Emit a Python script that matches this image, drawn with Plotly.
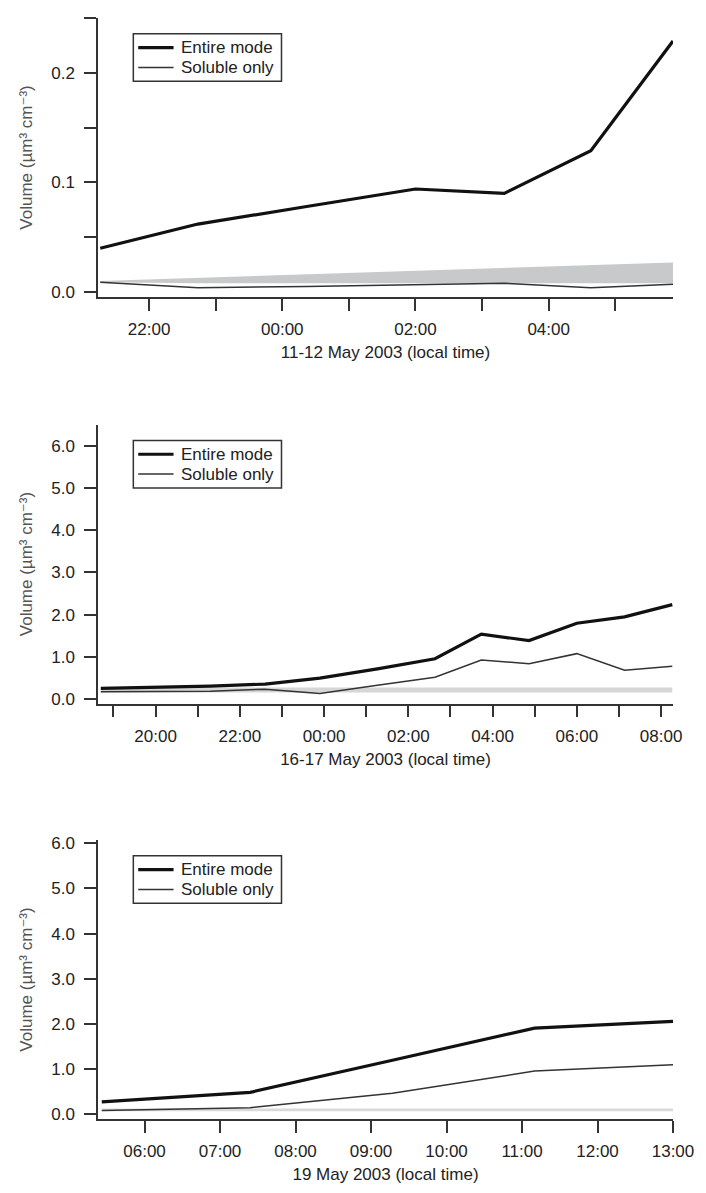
import plotly.graph_objects as go

# ---------------- Data ----------------
# Panel 1: 11-12 May 2003
t1 = ["2003-05-11 21:16", "2003-05-11 22:44", "2003-05-12 00:22", "2003-05-12 02:00",
      "2003-05-12 03:20", "2003-05-12 04:38", "2003-05-12 05:52"]
entire1 = [0.040, 0.062, 0.078, 0.094, 0.090, 0.129, 0.229]
soluble1 = [0.009, 0.004, 0.005, 0.007, 0.008, 0.004, 0.007]
band1_low = [0.009, 0.008, 0.008, 0.008, 0.008, 0.008, 0.008]
band1_high = [0.010, 0.013, 0.016, 0.019, 0.022, 0.025, 0.027]

# Panel 2: 16-17 May 2003
t2 = ["2003-05-16 18:42", "2003-05-16 20:00", "2003-05-16 21:18", "2003-05-16 22:36",
      "2003-05-16 23:54", "2003-05-17 01:16", "2003-05-17 02:38", "2003-05-17 03:44",
      "2003-05-17 04:52", "2003-05-17 06:00", "2003-05-17 07:08", "2003-05-17 08:16"]
entire2 = [0.26, 0.28, 0.31, 0.36, 0.50, 0.72, 0.96, 1.54, 1.39, 1.80, 1.95, 2.24]
soluble2 = [0.18, 0.18, 0.19, 0.24, 0.14, 0.33, 0.52, 0.93, 0.84, 1.08, 0.69, 0.78]
band2_low = [0.16] * 12
band2_high = [0.28] * 12

# Panel 3: 19 May 2003
t3 = ["2003-05-19 05:26", "2003-05-19 07:24", "2003-05-19 09:17", "2003-05-19 11:10",
      "2003-05-19 13:00"]
entire3 = [0.28, 0.49, 1.20, 1.91, 2.06]
soluble3 = [0.09, 0.15, 0.47, 0.96, 1.10]
band3_low = [0.07] * 5
band3_high = [0.13] * 5

# Axis ticks (major labelled, minor unlabelled)
xt1 = ["2003-05-11 22:00", "2003-05-12 00:00", "2003-05-12 02:00", "2003-05-12 04:00"]
xl1 = ["22:00", "00:00", "02:00", "04:00"]
xm1 = ["2003-05-11 23:00", "2003-05-12 01:00", "2003-05-12 03:00", "2003-05-12 05:00"]
xt2 = ["2003-05-16 20:00", "2003-05-16 22:00", "2003-05-17 00:00", "2003-05-17 02:00",
       "2003-05-17 04:00", "2003-05-17 06:00", "2003-05-17 08:00"]
xl2 = ["20:00", "22:00", "00:00", "02:00", "04:00", "06:00", "08:00"]
xm2 = ["2003-05-16 19:00", "2003-05-16 21:00", "2003-05-16 23:00", "2003-05-17 01:00",
       "2003-05-17 03:00", "2003-05-17 05:00", "2003-05-17 07:00"]
xt3 = ["2003-05-19 06:00", "2003-05-19 07:00", "2003-05-19 08:00", "2003-05-19 09:00",
       "2003-05-19 10:00", "2003-05-19 11:00", "2003-05-19 12:00", "2003-05-19 13:00"]
xl3 = ["06:00", "07:00", "08:00", "09:00", "10:00", "11:00", "12:00", "13:00"]
xm3 = []
yt1 = [0.0, 0.1, 0.2]
yl1 = ["0.0", "0.1", "0.2"]
ym1 = [0.05, 0.15, 0.25]
yt23 = [0, 1, 2, 3, 4, 5, 6]
yl23 = ["0.0", "1.0", "2.0", "3.0", "4.0", "5.0", "6.0"]

xtitles = ["11-12 May 2003 (local time)", "16-17 May 2003 (local time)", "19 May 2003 (local time)"]
ytitle = "Volume (µm³ cm⁻³)"
legend_names = ["Entire mode", "Soluble only"]

FONT = "Liberation Sans, Arial, DejaVu Sans, sans-serif"
TXT = "#222222"

W, H = 706, 1193
ML, MR, MT, MB = 98, 22, 15, 65
PW, PH = W - ML - MR, H - MT - MB


def px_x(px):
    return (px - ML) / PW


def px_y(py):
    return (H - MB - py) / PH


fig = go.Figure()

panels = [
    (t1, entire1, soluble1, band1_low, band1_high, "#c8c9cb", "x", "y"),
    (t2, entire2, soluble2, band2_low, band2_high, "#d6d6d6", "x2", "y2"),
    (t3, entire3, soluble3, band3_low, band3_high, "#dadada", "x3", "y3"),
]

ENT_W, SOL_W = 3.2, 1.5
ENT_C, SOL_C = "#111111", "#333333"

for t, ent, sol, lo, hi, bc, xa, ya in panels:
    fig.add_trace(go.Scatter(x=t, y=lo, mode="lines", line=dict(width=0, color=bc),
                             showlegend=False, hoverinfo="skip", xaxis=xa, yaxis=ya))
    fig.add_trace(go.Scatter(x=t, y=hi, mode="lines", line=dict(width=0, color=bc),
                             fill="tonexty", fillcolor=bc, showlegend=False,
                             hoverinfo="skip", xaxis=xa, yaxis=ya))
    fig.add_trace(go.Scatter(x=t, y=ent, mode="lines", name=legend_names[0],
                             line=dict(color=ENT_C, width=ENT_W), showlegend=False,
                             xaxis=xa, yaxis=ya))
    fig.add_trace(go.Scatter(x=t, y=sol, mode="lines", name=legend_names[1],
                             line=dict(color=SOL_C, width=SOL_W), showlegend=False,
                             xaxis=xa, yaxis=ya))

axis_common = dict(showline=True, linecolor="#333333", linewidth=1.5, ticks="outside",
                   ticklen=12, tickwidth=1.5, tickcolor="#333333", showgrid=False,
                   zeroline=False, ticklabeloverflow="allow",
                   tickfont=dict(family=FONT, size=17, color=TXT))

xranges = [["2003-05-11 21:14", "2003-05-12 05:52"],
           ["2003-05-16 18:38", "2003-05-17 08:17"],
           ["2003-05-19 05:23", "2003-05-19 13:00"]]
xticks = [(xt1, xl1, xm1), (xt2, xl2, xm2), (xt3, xl3, xm3)]
ydomains = [[px_y(297), px_y(15)], [px_y(708), px_y(426)], [px_y(1128), px_y(846)]]
yranges = [[-0.0045, 0.25], [-0.1, 6.5], [-0.1, 6.07]]
yticks = [(yt1, yl1, ym1), (yt23, yl23, []), (yt23, yl23, [])]
panel_tops = [15, 426, 846]

layout = dict(width=W, height=H, plot_bgcolor="white", paper_bgcolor="white",
              margin=dict(l=ML, r=MR, t=MT, b=MB), showlegend=False,
              font=dict(family=FONT, size=17, color=TXT))

shapes = []
annotations = []
for i in range(3):
    s = "" if i == 0 else str(i + 1)
    layout["xaxis" + s] = dict(axis_common, type="date", range=xranges[i],
                               tickmode="array", tickvals=xticks[i][0], ticktext=xticks[i][1],
                               minor=dict(tickvals=xticks[i][2], ticks="outside", ticklen=12,
                                          tickwidth=1.5, tickcolor="#333333", showgrid=False),
                               domain=[0, 1], anchor="y" + s, ticklabelstandoff=4,
                               title=dict(text=xtitles[i], standoff=8,
                                          font=dict(family=FONT, size=17, color=TXT)))
    layout["yaxis" + s] = dict(axis_common, range=yranges[i], domain=ydomains[i],
                               tickmode="array", tickvals=yticks[i][0], ticktext=yticks[i][1],
                               minor=dict(tickvals=yticks[i][2], ticks="outside", ticklen=12,
                                          tickwidth=1.5, tickcolor="#333333", showgrid=False),
                               anchor="x" + s, ticklabelstandoff=6,
                               title=dict(text=ytitle, standoff=14,
                                          font=dict(family=FONT, size=17, color="#555555")))
    # Legend box (drawn manually to match the reference's compact layout)
    top = panel_tops[i] + 16
    shapes.append(dict(type="rect", xref="paper", yref="paper",
                       x0=px_x(134), x1=px_x(285), y0=px_y(top + 48), y1=px_y(top),
                       line=dict(color="#333333", width=1.5), fillcolor="white", layer="above"))
    for k, (nm, lw, lc) in enumerate([(legend_names[0], ENT_W, ENT_C),
                                      (legend_names[1], SOL_W, SOL_C)]):
        yc = top + 14 + 20 * k
        shapes.append(dict(type="line", xref="paper", yref="paper",
                           x0=px_x(139), x1=px_x(175), y0=px_y(yc), y1=px_y(yc),
                           line=dict(color=lc, width=lw), layer="above"))
        annotations.append(dict(xref="paper", yref="paper", x=px_x(181), y=px_y(yc),
                                xanchor="left", yanchor="middle", text=nm, showarrow=False,
                                font=dict(family=FONT, size=17, color=TXT)))

layout["shapes"] = shapes
layout["annotations"] = annotations
fig.update_layout(**layout)

post = ("document.body.style.margin='0px';"
        "document.body.style.overflow='hidden';"
        "document.documentElement.style.overflow='hidden';"
        "var gd=document.getElementById('{plot_id}');"
        "gd.style.overflow='hidden';")
fig.write_html("out.html", config={"displayModeBar": False}, post_script=post)
